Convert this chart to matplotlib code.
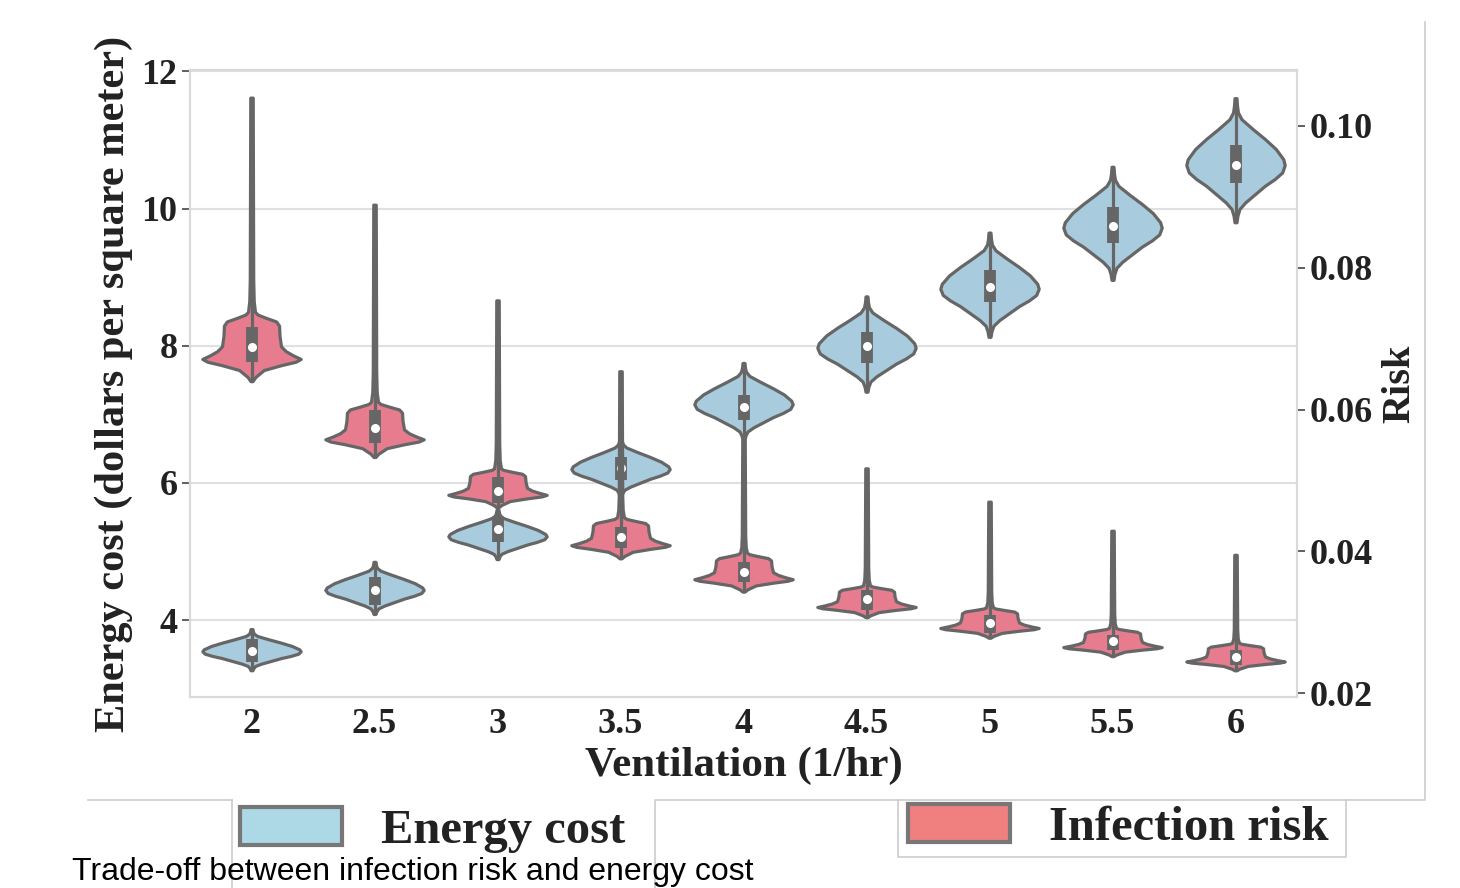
import matplotlib
matplotlib.use("Agg")
import matplotlib.pyplot as plt
from matplotlib.lines import Line2D
from matplotlib.patches import Patch
import numpy as np

# ventilation rates (1/hr)
vent = ["2", "2.5", "3", "3.5", "4", "4.5", "5", "5.5", "6"]

# energy cost violins (dollars per square meter)
energy_low = [3.27, 4.09, 4.89, 5.81, 6.63, 7.33, 8.13, 8.96, 9.80]
energy_q1 = [3.39, 4.22, 5.14, 6.04, 6.92, 7.75, 8.64, 9.50, 10.38]
energy_med = [3.55, 4.44, 5.33, 6.22, 7.11, 7.99, 8.86, 9.75, 10.64]
energy_q3 = [3.72, 4.63, 5.50, 6.38, 7.28, 8.20, 9.11, 10.03, 10.93]
energy_high = [3.87, 4.85, 5.61, 6.66, 7.75, 8.72, 9.65, 10.61, 11.61]

# infection risk violins: body bottom, body top, end of the long upper tail
risk_low = [0.0640, 0.0533, 0.0462, 0.0390, 0.0343, 0.0307, 0.0278, 0.0252, 0.0232]
risk_q1 = [0.0667, 0.0553, 0.0468, 0.0405, 0.0357, 0.0317, 0.0285, 0.0261, 0.0240]
risk_med = [0.0688, 0.0574, 0.0485, 0.0420, 0.0371, 0.0333, 0.0299, 0.0273, 0.0251]
risk_q3 = [0.0716, 0.0599, 0.0505, 0.0434, 0.0385, 0.0345, 0.0310, 0.0282, 0.0261]
risk_body = [0.0738, 0.0611, 0.0517, 0.0448, 0.0398, 0.0352, 0.0321, 0.0292, 0.0271]
risk_high = [0.1040, 0.0889, 0.0754, 0.0654, 0.0557, 0.0517, 0.0470, 0.0429, 0.0395]

# density outlines (0 = bottom tip, 1 = top tip)
energy_shape_t = [0.0, 0.054, 0.107, 0.161, 0.228, 0.295, 0.349, 0.402, 0.461,
                  0.509, 0.59, 0.67, 0.751, 0.831, 0.885, 0.94, 1.0]
energy_shape_w = [0.02, 0.04, 0.08, 0.2, 0.4, 0.6, 0.8, 0.95, 1.0,
                  0.97, 0.82, 0.6, 0.35, 0.12, 0.05, 0.03, 0.02]
risk_shape_t = [0.0, 0.06, 0.16, 0.23, 0.28, 0.32, 0.37, 0.43, 0.5, 0.65,
                0.8, 0.86, 0.91, 0.96, 1.0]
risk_shape_w = [0.02, 0.08, 0.25, 0.6, 0.9, 1.0, 0.85, 0.7, 0.6, 0.57,
                0.56, 0.5, 0.3, 0.12, 0.07]
tail_shape_t = [0.0, 0.05, 0.15, 1.0]
tail_shape_w = [0.06, 0.045, 0.035, 0.025]

blue_fill = "#a9cbde"
red_fill = "#e87c8f"
edge = "#666666"
serif = "Liberation Serif"

fig = plt.figure(figsize=(14.6, 8.88), dpi=100)
W, H = 1460, 888
ax = fig.add_axes([190 / W, 1 - 697 / H, (1297 - 190) / W, (697 - 70) / H])
ax2 = ax.twinx()


def stats(lo, hi, med, body_hi=None):
    if body_hi is None:
        coords = [lo + tt * (hi - lo) for tt in energy_shape_t]
        vals = list(energy_shape_w)
    else:
        coords = [lo + tt * (body_hi - lo) for tt in risk_shape_t]
        vals = list(risk_shape_w)
        coords += [body_hi + tt * (hi - body_hi) for tt in tail_shape_t[1:]]
        vals += tail_shape_w[1:]
    return dict(coords=np.array(coords), vals=np.array(vals), mean=med,
                median=med, min=lo, max=hi)


pos = np.arange(len(vent))

e_stats = [stats(energy_low[i], energy_high[i], energy_med[i]) for i in pos]
r_stats = [stats(risk_low[i], risk_high[i], risk_med[i], risk_body[i]) for i in pos]

series = [
    (ax, e_stats, energy_q1, energy_q3, blue_fill),
    (ax2, r_stats, risk_q1, risk_q3, red_fill),
]
for a, st, q1, q3, fill in series:
    parts = a.violin(st, positions=pos, widths=0.8, showmeans=False,
                     showextrema=False, showmedians=False)
    for b in parts["bodies"]:
        b.set_facecolor(fill)
        b.set_edgecolor(edge)
        b.set_linewidth(2.3)
        b.set_alpha(1)
        b.set_zorder(2)
    a.vlines(pos, [s["min"] for s in st], [s["max"] for s in st],
             color=edge, lw=2.3, zorder=3)
    a.vlines(pos, q1, q3, color=edge, lw=8.5, zorder=3)
    a.scatter(pos, [s["median"] for s in st], s=30, color="white", zorder=4)

ax.set_xlim(-0.5, 8.5)
ax.set_ylim(2.88, 12.02)
ax2.set_ylim(0.01944, 0.1079)
ax.set_xticks(pos)
ax.set_xticklabels(vent)
ax.set_yticks([4, 6, 8, 10, 12])
ax2.set_yticks([0.02, 0.04, 0.06, 0.08, 0.10])
ax2.set_yticklabels(["0.02", "0.04", "0.06", "0.08", "0.10"])

ax.set_axisbelow(True)
ax.yaxis.grid(True, color="#e0e0e0", lw=1.5)
ax.xaxis.grid(False)
for a in (ax, ax2):
    for sp in a.spines.values():
        sp.set_color("#d9d9d9")
        sp.set_linewidth(1.5)

ax.tick_params(axis="x", length=0, pad=8, labelcolor="#222222")
ax.tick_params(axis="y", length=6, width=1.2, color="#444444", pad=3, labelcolor="#222222")
ax2.tick_params(axis="y", length=6, width=1.2, color="#444444", pad=3, labelcolor="#222222")
for lab in ax.get_xticklabels() + ax.get_yticklabels() + ax2.get_yticklabels():
    lab.set_fontproperties(serif)
    lab.set_fontweight("bold")
    lab.set_fontsize(26)

ax.set_xlabel("Ventilation (1/hr)", family=serif, weight="bold", size=31,
              color="#222222", labelpad=4)
ax.set_ylabel("Energy cost (dollars per square meter)", family=serif,
              weight="bold", size=30.5, color="#222222", labelpad=6)
ax2.set_ylabel("Risk", family=serif, weight="bold", size=29, color="#222222",
               labelpad=6)

# legends, one per series as in the source layout
leg_font = dict(family=serif, weight="bold", size=35)
leg_kw = dict(loc="center left", frameon=False, prop=leg_font, borderpad=0,
              borderaxespad=0, handlelength=2.1, handleheight=0.82,
              handletextpad=0.8, labelcolor="#222222")
fig.legend(handles=[Patch(facecolor="#add8e6", edgecolor="#777777", lw=3)],
           labels=["Energy cost"], bbox_to_anchor=(240 / W, 1 - 830 / H), **leg_kw)
fig.legend(handles=[Patch(facecolor="#f08080", edgecolor="#777777", lw=3)],
           labels=["Infection risk"], bbox_to_anchor=(908 / W, 1 - 827 / H), **leg_kw)

# thin frame edges left over around the legends
frame_lines = [
    ([88, 232], [800, 800]), ([232, 232], [800, 888]),
    ([655, 655, 1425, 1425], [888, 800, 800, 22]),
    ([898, 898, 1346, 1346], [800, 857, 857, 800]),
]
for xs, ys in frame_lines:
    fig.add_artist(Line2D([x / W for x in xs], [1 - y / H for y in ys],
                          transform=fig.transFigure, color="#cccccc", lw=1.2))

fig.text(72 / W, 1 - 872 / H, "Trade-off between infection risk and energy cost",
         family="Liberation Sans", size=23, va="center", ha="left", color="black")

fig.savefig("out.png", dpi=100)
